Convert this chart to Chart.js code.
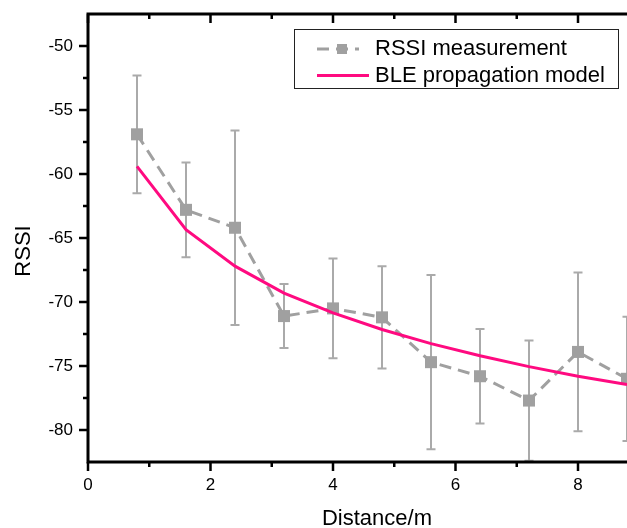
<!DOCTYPE html>
<html>
<head>
<meta charset="utf-8">
<script src="https://cdn.jsdelivr.net/npm/chart.js@4.4.0/dist/chart.umd.min.js"></script>
<style>
  html, body { margin: 0; padding: 0; background: #fff; }
</style>
</head>
<body>
<canvas id="chart" width="627" height="528"></canvas>
<script>
// values
const distances = [0.8, 1.6, 2.4, 3.2, 4.0, 4.8, 5.6, 6.4, 7.2, 8.0, 8.8];
const rssiMean = [-56.9, -62.8, -64.2, -71.1, -70.5, -71.2, -74.7, -75.8, -77.7, -73.9, -76.0];
const rssiError = [4.6, 3.7, 7.6, 2.5, 3.9, 4.0, 6.8, 3.7, 4.7, 6.2, 4.85];
const modelRssi = [-59.4, -64.35, -67.2, -69.3, -70.85, -72.15, -73.25, -74.2, -75.05, -75.8, -76.45];

const xTicks = [0, 2, 4, 6, 8];
const xMinorTicks = [1, 3, 5, 7];
const yTicks = [-80, -75, -70, -65, -60, -55, -50];
const yMinorTicks = [-77.5, -72.5, -67.5, -62.5, -57.5, -52.5];

const labels = ['RSSI measurement', 'BLE propagation model'];

const FONT = 'Arial, "Liberation Sans", sans-serif';
const GRAY = '#a0a0a0';
const PINK = '#ff0a80';

Chart.defaults.font.family = FONT;
Chart.defaults.color = '#000';

// drop the label padding chart.js reserves, so the plot fills the frame
function fitScale(s, size) {
    if (s.isHorizontal()) s.height = size; else s.width = size;
    s.paddingTop = 0;
    s.paddingBottom = 0;
    s.paddingLeft = 0;
    s.paddingRight = 0;
}

// error bars, drawn under the lines
const errorBars = {
    id: 'errorBars',
    beforeDatasetsDraw(chart) {
        const { ctx, chartArea: a, scales: { x, y } } = chart;
        ctx.save();
        ctx.beginPath();
        ctx.rect(a.left, a.top, a.right - a.left, a.bottom - a.top);
        ctx.clip();
        ctx.strokeStyle = '#aaaaaa';
        ctx.lineWidth = 2;
        distances.forEach((d, i) => {
            const px = x.getPixelForValue(d);
            const top = y.getPixelForValue(rssiMean[i] + rssiError[i]);
            const bot = y.getPixelForValue(rssiMean[i] - rssiError[i]);
            ctx.beginPath();
            ctx.moveTo(px, top);
            ctx.lineTo(px, bot);
            ctx.moveTo(px - 4.5, top);
            ctx.lineTo(px + 4.5, top);
            ctx.moveTo(px - 4.5, bot);
            ctx.lineTo(px + 4.5, bot);
            ctx.stroke();
        });
        ctx.restore();
    }
};

// axis frame, tick marks, axis titles and the boxed legend
const frame = {
    id: 'frame',
    afterDraw(chart) {
        const { ctx, chartArea: a, scales: { x, y } } = chart;
        ctx.save();
        ctx.strokeStyle = '#000';
        ctx.lineCap = 'butt';

        ctx.lineWidth = 2.5;
        xTicks.forEach(v => {
            const px = x.getPixelForValue(v);
            ctx.beginPath();
            ctx.moveTo(px, a.bottom); ctx.lineTo(px, a.bottom + 9);
            ctx.moveTo(px, a.top); ctx.lineTo(px, a.top + 9);
            ctx.stroke();
        });
        xMinorTicks.forEach(v => {
            const px = x.getPixelForValue(v);
            ctx.beginPath();
            ctx.moveTo(px, a.bottom); ctx.lineTo(px, a.bottom + 5);
            ctx.moveTo(px, a.top); ctx.lineTo(px, a.top + 5);
            ctx.stroke();
        });
        yTicks.forEach(v => {
            const py = y.getPixelForValue(v);
            ctx.beginPath();
            ctx.moveTo(a.left, py); ctx.lineTo(a.left - 9, py);
            ctx.stroke();
        });
        yMinorTicks.forEach(v => {
            const py = y.getPixelForValue(v);
            ctx.beginPath();
            ctx.moveTo(a.left, py); ctx.lineTo(a.left - 5, py);
            ctx.stroke();
        });

        ctx.lineWidth = 3;
        ctx.beginPath();
        ctx.moveTo(a.right, a.top); ctx.lineTo(a.left, a.top);
        ctx.lineTo(a.left, a.bottom); ctx.lineTo(a.right, a.bottom);
        ctx.stroke();

        // axis titles
        ctx.fillStyle = '#000';
        ctx.font = '22px ' + FONT;
        ctx.textAlign = 'center';
        ctx.textBaseline = 'alphabetic';
        ctx.fillText('Distance/m', 377, 525);
        ctx.save();
        ctx.translate(30, 251);
        ctx.rotate(-Math.PI / 2);
        ctx.fillText('RSSI', 0, 0);
        ctx.restore();

        // legend
        ctx.lineWidth = 1;
        ctx.strokeStyle = '#222';
        ctx.fillStyle = '#fff';
        ctx.fillRect(294.5, 29.5, 324, 59);
        ctx.strokeRect(294.5, 29.5, 324, 59);

        ctx.strokeStyle = GRAY;
        ctx.lineWidth = 3;
        ctx.setLineDash([12, 7]);
        ctx.beginPath();
        ctx.moveTo(317, 49); ctx.lineTo(359, 49);
        ctx.stroke();
        ctx.setLineDash([]);
        ctx.fillStyle = GRAY;
        ctx.fillRect(337, 44, 10, 10);

        ctx.strokeStyle = PINK;
        ctx.beginPath();
        ctx.moveTo(317, 75.5); ctx.lineTo(369, 75.5);
        ctx.stroke();

        ctx.fillStyle = '#000';
        ctx.font = '22px ' + FONT;
        ctx.textAlign = 'left';
        ctx.textBaseline = 'middle';
        ctx.fillText(labels[0], 375, 49);
        ctx.fillText(labels[1], 375, 76);
        ctx.restore();
    }
};

new Chart(document.getElementById('chart'), {
    type: 'line',
    data: {
        datasets: [{
            label: labels[0],
            data: distances.map((d, i) => ({ x: d, y: rssiMean[i] })),
            borderColor: GRAY,
            backgroundColor: GRAY,
            borderWidth: 3,
            borderDash: [12, 7],
            pointStyle: 'rect',
            pointRadius: 8.5,
            pointBorderWidth: 0,
            tension: 0,
            order: 2
        }, {
            label: labels[1],
            data: distances.map((d, i) => ({ x: d, y: modelRssi[i] })),
            borderColor: PINK,
            backgroundColor: PINK,
            borderWidth: 3,
            pointRadius: 0,
            tension: 0,
            order: 1
        }]
    },
    options: {
        responsive: false,
        animation: false,
        devicePixelRatio: 1,
        layout: { autoPadding: false, padding: { top: 14, right: 0, left: 0, bottom: 0 } },
        plugins: {
            legend: { display: false },
            tooltip: { enabled: false }
        },
        scales: {
            x: {
                type: 'linear',
                min: 0,
                max: 8.8,
                afterBuildTicks: s => { s.ticks = xTicks.map(v => ({ value: v })); },
                afterFit: s => fitScale(s, 66),
                grid: { display: false, drawTicks: false },
                border: { display: false },
                ticks: { font: { size: 17 }, color: '#000', padding: 13, maxRotation: 0, autoSkip: false }
            },
            y: {
                type: 'linear',
                min: -82.5,
                max: -47.5,
                afterBuildTicks: s => { s.ticks = yTicks.map(v => ({ value: v })); },
                afterFit: s => fitScale(s, 88),
                grid: { display: false, drawTicks: false },
                border: { display: false },
                ticks: { font: { size: 17 }, color: '#000', padding: 15, autoSkip: false }
            }
        }
    },
    plugins: [errorBars, frame]
});
</script>
</body>
</html>
